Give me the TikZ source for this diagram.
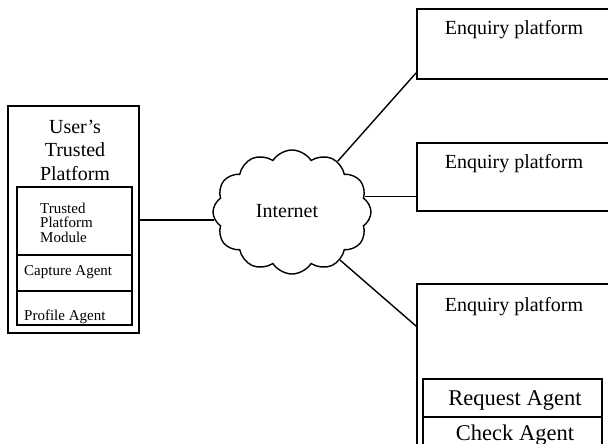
\documentclass[tikz,border=0pt]{standalone}
\usepackage{fontspec}
\setmainfont{Liberation Serif}
\usetikzlibrary{shapes.symbols,fit}

\tikzset{
	box/.style={draw=black, line width=1.7pt, rectangle, inner sep=0pt},
	link/.style={draw=black, line width=1.4pt},
	big/.style={font=\fontsize{20}{23.5}\selectfont, inner sep=0pt},
	bigger/.style={font=\fontsize{22.5}{26}\selectfont, inner sep=0pt},
	small/.style={font=\fontsize{15}{14.5}\selectfont, inner sep=0pt, align=left}
}

\begin{document}
\begin{tikzpicture}[x=1pt,y=-1pt]
				\clip (0,0) rectangle (608,444);
				%Nodes
				\node[box, fit={(8,106) (139,333)}] (utp) {};
				\node[big, align=center, anchor=base] (utptitle) at (75,180) {User's\\Trusted\\Platform};
				\node[box, fit={(17,187) (132,255)}] (tpm) {};
				\node[box, fit={(17,255) (132,291)}] (capture) {};
				\node[box, fit={(17,291) (132,325)}] (profile) {};
				\node[small, anchor=base west] (tpmtext) at (40,242) {Trusted\\Platform\\Module};
				\node[small, anchor=base west] (capturetext) at (24,275) {Capture Agent};
				\node[small, anchor=base west] (profiletext) at (24,320) {Profile Agent};

				\node[cloud, draw, line width=1.4pt, cloud puffs=12, cloud puff arc=115, aspect=1.3,
					minimum width=158pt, minimum height=124pt, inner sep=0pt] (inet) at (292,212) {};
				\node[big, anchor=base] (inettext) at (287,217) {Internet};

				\node[box, fit={(417,9) (630,79)}] (ep1) {};
				\node[box, fit={(417,143) (630,211)}] (ep2) {};
				\node[box, fit={(417,284) (630,470)}] (ep3) {};
				\node[box, fit={(423,379) (602,417)}] (request) {};
				\node[box, fit={(423,417) (602,470)}] (check) {};
				\node[big, anchor=base] (ep1text) at (514,35) {Enquiry platform};
				\node[big, anchor=base] (ep2text) at (514,168) {Enquiry platform};
				\node[big, anchor=base] (ep3text) at (514,311) {Enquiry platform};
				\node[bigger, anchor=base] (requesttext) at (515,405) {Request Agent};
				\node[bigger, anchor=base] (checktext) at (515,440) {Check Agent};

				%Lines
				\draw[link] (inet.186) -- (inet.186 -| utp.east);
				\draw[link] (inet.48) -- ([yshift=7pt]ep1.south west);
				\draw[link] (inet.12) -- (inet.12 -| ep2.west);
				\draw[link] (inet.-45) -- ([yshift=-43pt]ep3.north west);
\end{tikzpicture}
\end{document}
